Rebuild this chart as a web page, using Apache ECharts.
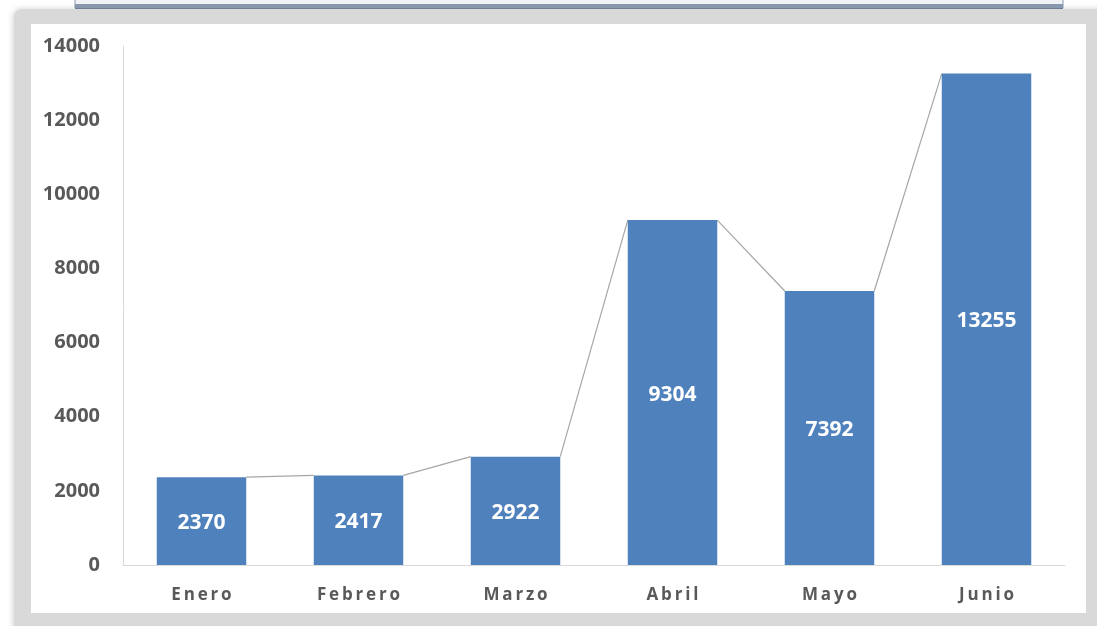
<!DOCTYPE html>
<html>
<head>
<meta charset="utf-8">
<script src="https://cdn.jsdelivr.net/npm/echarts@6/dist/echarts.min.js"></script>
<style>
  html, body { margin: 0; padding: 0; background: #ffffff; }
  #chart { width: 1097px; height: 626px; }
</style>
</head>
<body>
<div id="chart"></div>
<script>
// Monthly totals, January to June
const months = ['Enero', 'Febrero', 'Marzo', 'Abril', 'Mayo', 'Junio'];
const totals = [2370, 2417, 2922, 9304, 7392, 13255];
const yTicks = [0, 2000, 4000, 6000, 8000, 10000, 12000, 14000];

const BAR_RATIO = 0.57;
const spaced = s => s.split('').join('\u2009');

// Connector segments between consecutive bar tops
const connectors = totals.slice(0, -1).map((v, i) => [i, v, totals[i + 1]]);

const chart = echarts.init(document.getElementById('chart'), null, { renderer: 'canvas' });

chart.setOption({
  animation: false,
  graphic: [
    { type: 'rect', z: -10, shape: { x: 14, y: 9, width: 1100, height: 630, r: [8, 0, 0, 0] },
      style: { fill: '#d9d9d9', shadowColor: 'rgba(0,0,0,0.18)', shadowBlur: 6, shadowOffsetX: -1 } },
    { type: 'rect', z: -9, shape: { x: 75, y: -2, width: 988, height: 10 },
      style: { fill: '#f1f2f5', stroke: '#8797ae', lineWidth: 1 } },
    { type: 'rect', z: -8, shape: { x: 75, y: 4, width: 988, height: 5 },
      style: { fill: '#8797ae' } },
    { type: 'line', z: -8, shape: { x1: 75, y1: 8.5, x2: 1063, y2: 8.5 },
      style: { stroke: '#6f7f96', lineWidth: 1 } },
    { type: 'rect', z: -7, shape: { x: 31, y: 24, width: 1055, height: 589 },
      style: { fill: '#ffffff' } }
  ],
  grid: { left: 123, right: 32, top: 46, bottom: 61 },
  xAxis: {
    type: 'category',
    data: months,
    axisLine: { lineStyle: { color: '#d9d9d9', width: 1 } },
    axisTick: { show: false },
    axisLabel: {
      margin: 22,
      color: '#595959',
      fontFamily: 'Open Sans',
      fontWeight: 'bold',
      fontSize: 17,
      formatter: v => spaced(v)
    }
  },
  yAxis: {
    type: 'value',
    min: yTicks[0],
    max: yTicks[yTicks.length - 1],
    interval: yTicks[1] - yTicks[0],
    axisLine: { show: true, lineStyle: { color: '#d9d9d9', width: 1 } },
    axisTick: { show: false },
    splitLine: { show: false },
    axisLabel: {
      margin: 23,
      color: '#595959',
      fontFamily: 'Open Sans',
      fontWeight: 'bold',
      fontSize: 20,
      formatter: v => String(v)
    }
  },
  series: [
    {
      type: 'bar',
      data: totals,
      barWidth: (BAR_RATIO * 100) + '%',
      itemStyle: { color: '#4f81bd' },
      label: {
        show: true,
        position: 'inside',
        offset: [0, 2],
        color: '#ffffff',
        fontFamily: 'Open Sans',
        fontWeight: 'bold',
        fontSize: 21
      },
      z: 3
    },
    {
      type: 'custom',
      data: connectors,
      z: 2,
      silent: true,
      renderItem: function (params, api) {
        const i = api.value(0);
        const a = api.coord([i, api.value(1)]);
        const b = api.coord([i + 1, api.value(2)]);
        const half = api.size([1, 0])[0] * BAR_RATIO / 2;
        return {
          type: 'line',
          shape: { x1: a[0] + half, y1: a[1], x2: b[0] - half, y2: b[1] },
          style: { stroke: '#a6a6a6', lineWidth: 1.2 }
        };
      }
    }
  ]
});
</script>
</body>
</html>
